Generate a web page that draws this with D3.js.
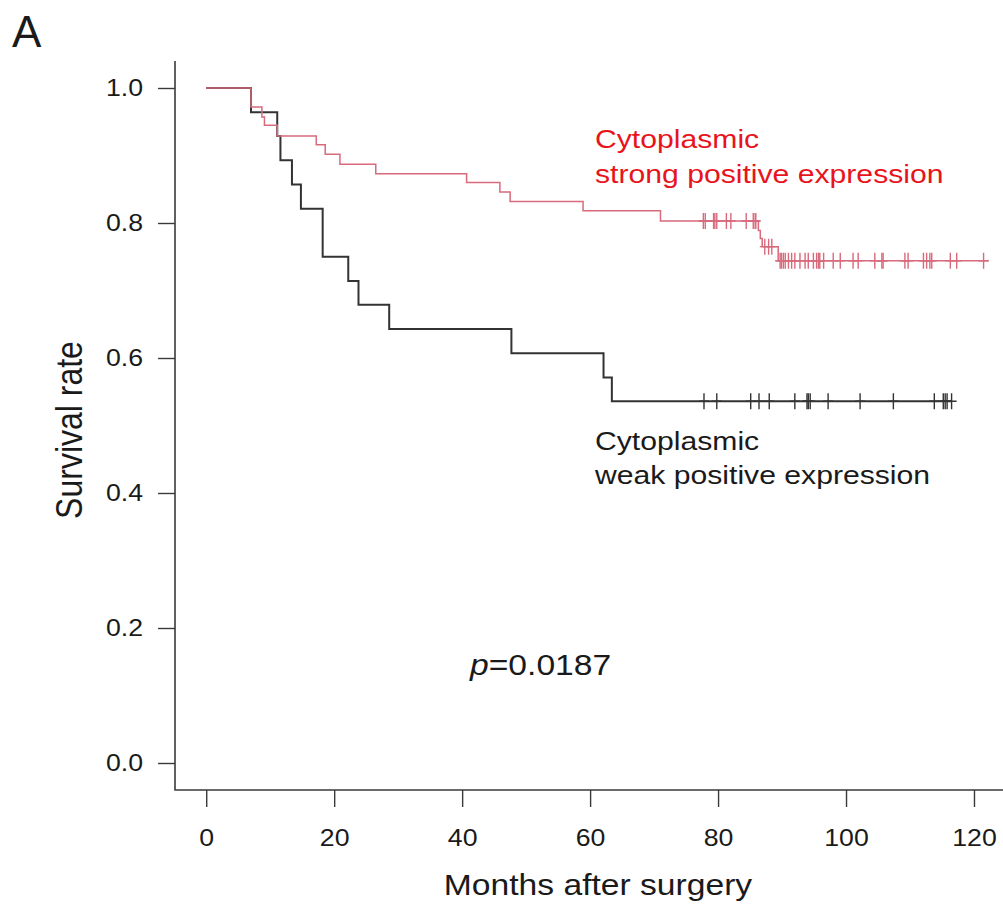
<!DOCTYPE html>
<html>
<head>
<meta charset="utf-8">
<script src="https://cdn.jsdelivr.net/npm/d3@7"></script>
<style>
  body { margin: 0; background: #fff; }
  svg text { font-family: "Liberation Sans", Arial, sans-serif; fill: #1a1a1a; }
</style>
</head>
<body>
<div id="chart"></div>
<script>
// Kaplan-Meier steps: [month, survival after the drop]
const strongSteps = [
  [7.0, 0.972], [8.7, 0.957], [9.1, 0.945], [11.1, 0.929], [17.2, 0.916],
  [18.6, 0.902], [20.9, 0.887], [26.5, 0.873], [40.7, 0.860], [45.9, 0.846],
  [47.5, 0.832], [58.9, 0.818], [71.0, 0.803], [86.3, 0.789], [86.6, 0.777],
  [86.9, 0.765], [89.4, 0.744]
];
const strongCensored = [
  77.7, 78.0, 79.3, 79.5, 79.8, 81.3, 82.0, 84.4, 85.5, 85.8, 85.9,
  87.3, 87.9, 88.4,
  89.7, 89.9, 90.2, 90.5, 91.0, 91.5, 92.0, 92.8, 93.6, 94.1, 94.9, 95.4, 95.7,
  95.9, 96.5, 98.0, 99.1, 101.1, 101.9, 104.5, 105.6, 105.8, 109.2, 109.7,
  112.1, 112.6, 113.1, 113.4, 116.3, 117.3, 121.5
];
const strongEnd = 122.3;

const weakSteps = [
  [7.0, 0.964], [11.1, 0.929], [11.6, 0.893], [13.4, 0.857], [14.8, 0.821],
  [18.2, 0.750], [22.2, 0.714], [23.8, 0.679], [28.6, 0.643], [47.7, 0.607],
  [62.1, 0.571], [63.4, 0.536]
];
const weakCensored = [
  77.8, 79.8, 85.1, 86.4, 88.0, 92.0, 93.9, 94.1, 94.4, 97.2, 102.2, 107.4,
  113.8, 115.2, 115.5, 115.8, 116.5
];
const weakEnd = 116.5;

const xTicks = [0, 20, 40, 60, 80, 100, 120];
const yTicks = [0.0, 0.2, 0.4, 0.6, 0.8, 1.0];

const width = 1003, height = 907;
const sx = 1.16; // picture is a bit wider than tall, text too

const svg = d3.select("#chart").append("svg")
  .attr("width", width)
  .attr("height", height);

const x = d3.scaleLinear().domain([-4.88, 126.88]).range([175, 1018]);
const y = d3.scaleLinear().domain([-0.04, 1.04]).range([790, 61]);

// stretch a text horizontally around its anchor
function widen(sel, k) {
  sel.each(function() {
    const t = d3.select(this);
    const tx = +t.attr("x") || 0, ty = +t.attr("y") || 0;
    t.attr("x", 0).attr("y", 0)
      .attr("transform", `translate(${tx},${ty}) scale(${k || sx},1)`);
  });
}

// box (left + bottom)
svg.append("path")
  .attr("d", `M${x.range()[0]},${y.range()[1]}V${y.range()[0]}H${x.range()[1]}`)
  .attr("fill", "none")
  .attr("stroke", "#3a3a3a")
  .attr("stroke-width", 1.6);

const yAxis = svg.append("g")
  .attr("transform", `translate(${x.range()[0]},0)`)
  .call(d3.axisLeft(y).tickValues(yTicks).tickFormat(d3.format(".1f")).tickSize(17).tickPadding(15));
const xAxis = svg.append("g")
  .attr("transform", `translate(0,${y.range()[0]})`)
  .call(d3.axisBottom(x).tickValues(xTicks).tickSize(17).tickPadding(23));

[yAxis, xAxis].forEach(g => {
  g.select(".domain").remove();
  g.selectAll(".tick line").attr("stroke", "#3a3a3a").attr("stroke-width", 1.4);
  g.selectAll(".tick text").attr("font-size", 23).attr("fill", "#1a1a1a")
    .style("font-family", "'Liberation Sans', Arial, sans-serif");
  widen(g.selectAll(".tick text"));
});

// survival curves
function curvePoints(steps, end) {
  const pts = [[0, 1]].concat(steps);
  pts.push([end, steps[steps.length - 1][1]]);
  return pts;
}
function survAt(steps, t) {
  let s = 1;
  steps.forEach(d => { if (d[0] <= t) s = d[1]; });
  return s;
}
const line = d3.line()
  .x(d => x(d[0]))
  .y(d => y(d[1]))
  .curve(d3.curveStepAfter);

const groups = [
  { steps: weakSteps, cens: weakCensored, end: weakEnd, color: "#333333", w: 2 },
  { steps: strongSteps, cens: strongCensored, end: strongEnd, color: "#d86a7c", w: 1.5 }
];

groups.forEach(g => {
  svg.append("path")
    .datum(curvePoints(g.steps, g.end))
    .attr("d", line)
    .attr("fill", "none")
    .attr("stroke", g.color)
    .attr("stroke-width", g.w);

  svg.append("g").selectAll("path")
    .data(g.cens)
    .enter()
    .append("path")
    .attr("d", d => {
      const cx = x(d), cy = y(survAt(g.steps, d));
      return `M${cx},${cy - 8}V${cy + 8}M${cx - 5},${cy}H${cx + 5}`;
    })
    .attr("stroke", g.color)
    .attr("stroke-width", 1.4);
});

// texts
function label(txt, px, py, size, color, anchor, k) {
  const t = svg.append("text")
    .attr("x", px).attr("y", py)
    .attr("font-size", size)
    .attr("text-anchor", anchor || "start")
    .style("fill", color || "#1a1a1a")
    .text(txt);
  widen(t, k);
  return t;
}

label("A", 12, 47, 44, "#1a1a1a", "start", 1.0);
label("Cytoplasmic", 595, 148, 26, "#e8141c");
label("strong positive expression", 595, 183, 26, "#e8141c");
label("Cytoplasmic", 595, 450, 26);
label("weak positive expression", 595, 484, 26);

const p = svg.append("text")
  .attr("x", 470).attr("y", 675)
  .attr("font-size", 29)
  .style("fill", "#1a1a1a");
p.append("tspan").attr("font-style", "italic").text("p");
p.append("tspan").text("=0.0187");
widen(p);

label("Months after surgery", 598, 895, 29, "#1a1a1a", "middle");

// rotated title: the widening goes across the letters here
svg.append("text")
  .attr("transform", `translate(82,430) rotate(-90) scale(1,${sx})`)
  .attr("text-anchor", "middle")
  .attr("font-size", 32)
  .style("fill", "#1a1a1a")
  .text("Survival rate");
</script>
</body>
</html>
